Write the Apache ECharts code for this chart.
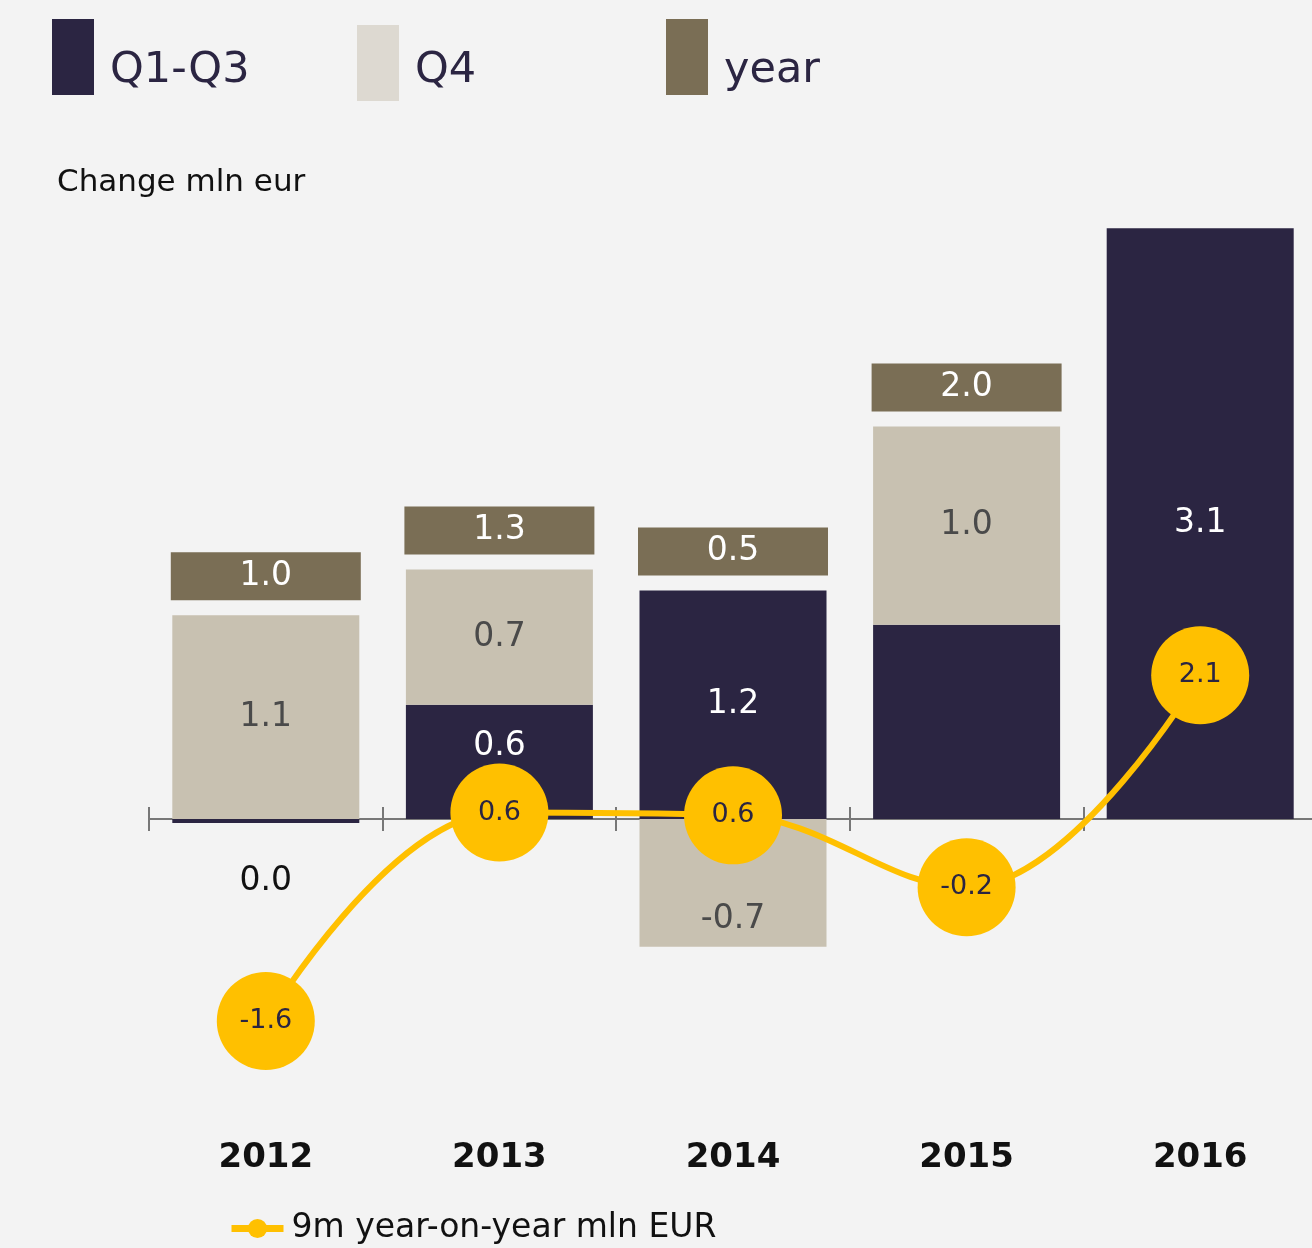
<!DOCTYPE html>
<html>
<head>
<meta charset="utf-8">
<style>
  html, body { margin: 0; padding: 0; background: #f3f3f3; }
  #main { width: 1312px; height: 1248px; }
</style>
<script src="https://cdn.jsdelivr.net/npm/echarts@6/dist/echarts.min.js"></script>
</head>
<body>
<div id="main"></div>
<script>
// data
var years = ['2012', '2013', '2014', '2015', '2016'];
var q1q3 = [-0.02, 0.6, 1.2, 1.02, 3.1];
var q4 = [1.07, 0.71, -0.67, 1.04, 0];
var yearTotal = [1.0, 1.3, 0.5, 2.0, null];
var nineMonths = [-1.6, 0.63, 0.6, -0.17, 2.1];

var FONT = 'DejaVu Sans';
var DARK = '#2b2542';
var BEIGE = '#c8c1b1';
var BROWN = '#7a6e55';
var YELLOW = '#ffc000';

function fmt(v) {
    if (Math.abs(v) < 0.05) return '0.0';
    return v.toFixed(1);
}

var myChart = echarts.init(document.getElementById('main'));

// Q1-Q3 bars, a few labels moved like in the picture
var q1q3Data = q1q3.map(function (v, i) {
    var item = { value: v };
    if (i === 0) item.label = { position: 'bottom', distance: 42, color: '#111' };
    if (i === 1) item.label = { offset: [0, -15] };
    if (i === 3) item.label = { show: false };
    return item;
});
var q4Data = q4.map(function (v, i) {
    var item = { value: v };
    if (i === 2) item.label = { offset: [0, 36] };
    if (i === 4) item.label = { show: false };
    return item;
});

// year boxes sit above the top of the stack
var yearData = [];
yearTotal.forEach(function (v, i) {
    if (v == null) return;
    var top = Math.max(q1q3[i], 0) + Math.max(q4[i], 0);
    yearData.push([i, top, v]);
});

function topLegend(name, color, left, top, shift) {
    return {
        data: [{ name: name, itemStyle: { color: color } }],
        left: left, top: top, padding: 0,
        icon: 'rect', itemWidth: 42, itemHeight: 76,
        selectedMode: false,
        formatter: '{t|{name}}',
        textStyle: {
            rich: {
                t: { fontFamily: FONT, fontSize: 43, color: DARK, padding: [shift, 0, 0, 11] }
            }
        }
    };
}

var option = {
    backgroundColor: '#f3f3f3',
    textStyle: { fontFamily: FONT },
    title: {
        text: 'Change mln eur',
        left: 52,
        top: 162,
        textStyle: { fontFamily: FONT, fontSize: 31, fontWeight: 'normal', color: '#111' }
    },
    legend: [
        topLegend('Q1-Q3', DARK, 52, 19, 27),
        topLegend('Q4', '#ddd9d1', 357, 25, 15),
        topLegend('year', BROWN, 666, 19, 27),
        {
            data: ['9m year-on-year mln EUR'],
            left: 228, top: 1212, padding: 0,
            itemWidth: 52, itemHeight: 24,
            selectedMode: false,
            lineStyle: { width: 7 },
            textStyle: { fontFamily: FONT, fontSize: 33, color: '#111', padding: [0, 0, 0, 3] }
        }
    ],
    grid: { left: 149, top: 152, width: 1168, height: 953, outerBoundsMode: 'none', containLabel: false },
    xAxis: [{
        // zero line, ticks pointing down
        type: 'category',
        data: years,
        axisLine: { onZero: true, onZeroAxisIndex: 0, lineStyle: { color: '#777', width: 2 } },
        axisTick: { show: true, length: 12, lineStyle: { color: '#777', width: 2 } },
        axisLabel: { show: false },
        splitLine: { show: false }
    }, {
        // zero line, ticks pointing up
        type: 'category',
        data: years,
        position: 'bottom',
        axisLine: { onZero: true, onZeroAxisIndex: 0, lineStyle: { color: '#777', width: 2 } },
        axisTick: { show: true, inside: true, length: 12, lineStyle: { color: '#777', width: 2 } },
        axisLabel: { show: false },
        splitLine: { show: false }
    }, {
        // year labels at the bottom
        type: 'category',
        data: years,
        position: 'bottom',
        axisLine: { show: false, onZero: false },
        axisTick: { show: false },
        axisLabel: { margin: 36, fontFamily: FONT, fontSize: 34, fontWeight: 'bold', color: '#111' },
        splitLine: { show: false }
    }],
    yAxis: [{
        type: 'value', min: -1.5, max: 3.5, show: false
    }, {
        type: 'value', min: -2.5, max: 7.7, show: false
    }],
    series: [{
        name: 'Q1-Q3',
        type: 'bar',
        stack: 'q',
        barWidth: 187,
        itemStyle: { color: DARK },
        label: {
            show: true, position: 'inside', color: '#fff',
            fontFamily: FONT, fontSize: 33,
            formatter: function (p) { return fmt(p.value); }
        },
        data: q1q3Data
    }, {
        name: 'Q4',
        type: 'bar',
        stack: 'q',
        barWidth: 187,
        itemStyle: { color: BEIGE },
        label: {
            show: true, position: 'inside', color: '#4a4a4a',
            fontFamily: FONT, fontSize: 33,
            formatter: function (p) { return fmt(p.value); }
        },
        data: q4Data
    }, {
        name: 'year',
        type: 'custom',
        itemStyle: { color: BROWN },
        encode: { x: 0, y: 1 },
        renderItem: function (params, api) {
            var p = api.coord([api.value(0), api.value(1)]);
            var w = 190, h = 48, gap = 15;
            return {
                type: 'rect',
                shape: { x: p[0] - w / 2, y: p[1] - gap - h, width: w, height: h },
                style: { fill: BROWN },
                textContent: {
                    style: {
                        text: fmt(api.value(2)), fill: '#fff',
                        fontFamily: FONT, fontSize: 33
                    }
                },
                textConfig: { position: 'inside' }
            };
        },
        data: yearData,
        z: 3
    }, {
        name: '9m year-on-year mln EUR',
        type: 'line',
        yAxisIndex: 1,
        smooth: 0.4,
        symbol: 'circle',
        symbolSize: 98,
        itemStyle: { color: YELLOW },
        lineStyle: { color: YELLOW, width: 6 },
        label: {
            show: true, position: 'inside', color: DARK,
            fontFamily: FONT, fontSize: 27,
            formatter: function (p) { return fmt(p.value); }
        },
        data: nineMonths,
        z: 5
    }]
};

myChart.setOption(option);
</script>
</body>
</html>
